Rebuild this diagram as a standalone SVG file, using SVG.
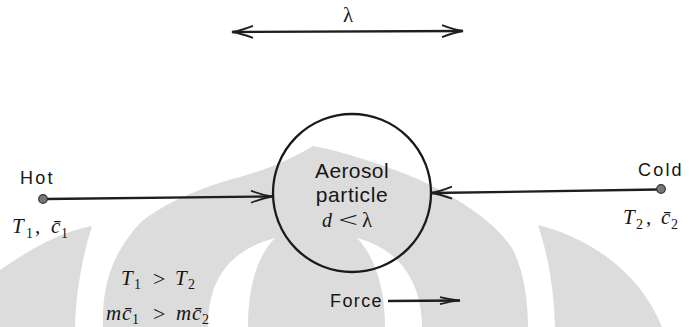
<svg xmlns="http://www.w3.org/2000/svg" width="692" height="327" viewBox="0 0 692 327">
<style>
.wm{fill:#dcdcdc;stroke:none}
.wh{fill:#ffffff;stroke:none}
.sans{font-family:"Liberation Sans",Arial,sans-serif;fill:#161616}
.ser{font-family:"Liberation Serif","Times New Roman",serif;fill:#161616}
.it{font-style:italic}
.sub{font-size:14px}
.conn{stroke:#1e1e1e;stroke-width:2.3;fill:none}
.dot{fill:#777;stroke:#333;stroke-width:1.2}
</style>
<defs>
<marker id="head" markerUnits="userSpaceOnUse" markerWidth="26" markerHeight="16" refX="22" refY="7" orient="auto-start-reverse" viewBox="0 0 26 16">
<path d="M1,1 Q13,5.6 22,7 Q13,8.4 1,13" fill="none" stroke="#1e1e1e" stroke-width="1.8"/>
</marker>
<marker id="headS" markerUnits="userSpaceOnUse" markerWidth="24" markerHeight="10" refX="21" refY="4.5" orient="auto" viewBox="0 0 24 10">
<path d="M1,1 Q12,3.8 21,4.5 Q12,5.2 1,8" fill="none" stroke="#1e1e1e" stroke-width="1.6"/>
</marker>
</defs>
<rect width="692" height="327" fill="#ffffff"/>
<g id="watermark">
<path class="wm" d="M0,270 C32,248 60,232 92,226 C82,258 76,292 75,327 L0,327 Z"/>
<path class="wm" d="M103,327 C102,292 108,258 140,223 C165,202 205,186 240,177 C265,170 290,160 313,146 C345,152 385,165 420,180 C470,204 500,228 513,250 C524,272 528,300 528,327 Z"/>
<path class="wh" d="M208,327 C208,288 222,252 275,238 C258,255 248,285 248,327 Z"/>
<path class="wh" d="M422,327 C422,285 402,250 357,238 C376,258 385,290 385,327 Z"/>
<path class="wm" d="M538,225 C590,238 640,272 662,327 L555,327 C554,292 549,258 538,225 Z"/>
</g>
<g id="connectors">
<line id="lambda-span" class="conn" x1="232" y1="32" x2="463" y2="31" marker-start="url(#head)" marker-end="url(#head)"/>
<line id="hot-to-particle" class="conn" x1="46" y1="199" x2="272" y2="196.5" marker-end="url(#head)"/>
<line id="cold-to-particle" class="conn" x1="658" y1="189.5" x2="431" y2="193" marker-end="url(#head)"/>
<line id="force-arrow" class="conn" x1="388" y1="301" x2="460" y2="300.5" stroke-width="1.8" marker-end="url(#headS)"/>
</g>
<g id="lambda-label">
<text class="ser" x="348" y="22" font-size="21" text-anchor="middle">λ</text>
</g>
<g id="node-particle">
<circle cx="352" cy="193" r="79" fill="none" stroke="#1a1a1a" stroke-width="2.3"/>
<text class="sans" x="352" y="178" font-size="21" text-anchor="middle" letter-spacing="0.4">Aerosol</text>
<text class="sans" x="352" y="202" font-size="21" text-anchor="middle" letter-spacing="0.6">particle</text>
<text class="ser it" x="322" y="227" font-size="20">d</text>
<text class="ser" x="338" y="227" font-size="20" textLength="20" lengthAdjust="spacingAndGlyphs">&lt;</text>
<text class="ser" x="362" y="227" font-size="21">λ</text>
</g>
<g id="node-hot">
<circle class="dot" cx="43" cy="199" r="4.3"/>
<text class="sans" x="20" y="184" font-size="18" letter-spacing="2.2">Hot</text>
<text class="ser" y="233" font-size="21"><tspan class="it" x="12">T</tspan><tspan class="sub" x="26" y="238">1</tspan><tspan x="35" y="233">,</tspan><tspan class="it" x="51" y="233">c&#x304;</tspan><tspan class="sub" x="61" y="238">1</tspan></text>
</g>
<g id="node-cold">
<circle class="dot" cx="661" cy="189" r="4.3"/>
<text class="sans" x="638" y="176" font-size="18" letter-spacing="2.2">Cold</text>
<text class="ser" y="224" font-size="21"><tspan class="it" x="623">T</tspan><tspan class="sub" x="636" y="229">2</tspan><tspan x="646" y="224">,</tspan><tspan class="it" x="661" y="224">c&#x304;</tspan><tspan class="sub" x="671" y="229">2</tspan></text>
</g>
<g id="conditions">
<text class="ser" y="285" font-size="21"><tspan class="it" x="121">T</tspan><tspan class="sub" x="134" y="289">1</tspan><tspan x="153" y="286" font-size="22">&gt;</tspan><tspan class="it" x="175" y="285">T</tspan><tspan class="sub" x="188" y="289">2</tspan></text>
<text class="ser" y="320" font-size="21"><tspan class="it" x="106">m</tspan><tspan class="it" x="122">c&#x304;</tspan><tspan class="sub" x="132" y="324">1</tspan><tspan x="153" y="321" font-size="22">&gt;</tspan><tspan class="it" x="176" y="320">m</tspan><tspan class="it" x="192">c&#x304;</tspan><tspan class="sub" x="202" y="324">2</tspan></text>
</g>
<g id="force-label">
<text class="sans" x="330" y="307" font-size="18" letter-spacing="1.4">Force</text>
</g>
</svg>
